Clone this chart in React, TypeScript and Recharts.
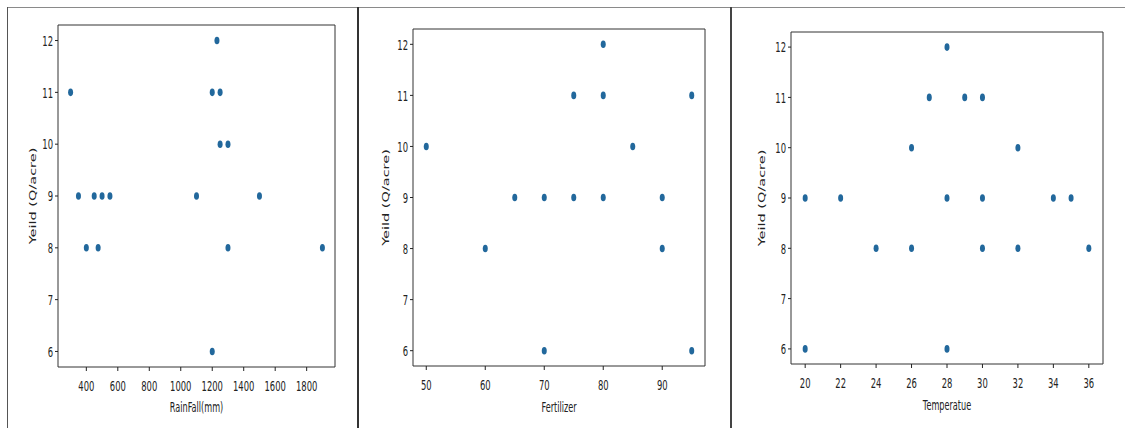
import { ScatterChart, Scatter, XAxis, YAxis, ReferenceArea } from 'recharts';

// values
const rainfall = [300, 350, 400, 450, 475, 500, 550, 1100, 1200, 1200, 1230, 1250, 1250, 1300, 1300, 1500, 1900];
const rainYield = [11, 9, 8, 9, 8, 9, 9, 9, 11, 6, 12, 11, 10, 10, 8, 9, 8];

const fertilizer = [50, 60, 65, 70, 70, 75, 75, 80, 80, 80, 85, 90, 90, 95, 95];
const fertYield = [10, 8, 9, 9, 6, 11, 9, 12, 11, 9, 10, 9, 8, 11, 6];

const temperature = [20, 20, 22, 24, 26, 26, 27, 28, 28, 28, 29, 30, 30, 30, 32, 32, 34, 35, 36];
const tempYield = [9, 6, 9, 8, 10, 8, 11, 12, 9, 6, 11, 11, 9, 8, 10, 8, 9, 9, 8];

const yieldTicks = [6, 7, 8, 9, 10, 11, 12];
const rainTicks = [400, 600, 800, 1000, 1200, 1400, 1600, 1800];
const fertTicks = [50, 60, 70, 80, 90];
const tempTicks = [20, 22, 24, 26, 28, 30, 32, 34, 36];

const yDomain = [5.7, 12.3];

const DOT = '#22689c';
const INK = '#222';
const SX = 0.58; // the screenshot is squeezed horizontally
const FONT = '"DejaVu Sans", sans-serif';

const toPoints = (xs: number[], ys: number[]) => xs.map((x, i) => ({ x, y: ys[i] }));

const Dot = (p: any) => <ellipse cx={p.cx} cy={p.cy} rx={2.5} ry={3.8} fill={DOT} />;

const XTick = (p: any) => (
  <g transform={`translate(${p.x},${p.y})`}>
    <text transform={`scale(${SX},1)`} textAnchor="middle" dy="0.74em" fontSize={14.5} fontFamily={FONT} fill={INK}>
      {p.payload.value}
    </text>
  </g>
);

const YTick = (p: any) => (
  <g transform={`translate(${p.x},${p.y})`}>
    <text transform={`scale(${SX},1)`} textAnchor="end" dy="0.36em" fontSize={14.5} fontFamily={FONT} fill={INK}>
      {p.payload.value}
    </text>
  </g>
);

type PanelProps = {
  data: { x: number; y: number }[];
  xDomain: number[];
  xTicks: number[];
  xLabel: string;
  left: number;
  width: number;
  top: number;
  right: number;
  yAxisW: number;
  xAxisH: number;
  yLabelX: number;
  xLabelBase: number;
};

const Panel = (props: PanelProps) => {
  const { data, xDomain, xTicks, xLabel, left, width, top, right, yAxisW, xAxisH, yLabelX, xLabelBase } = props;
  const height = 428;
  return (
    <div style={{ position: 'absolute', left, top: 0 }}>
      <ScatterChart width={width} height={height} margin={{ top, right, bottom: 0, left: 0 }}>
        <XAxis
          type="number"
          dataKey="x"
          domain={xDomain}
          ticks={xTicks}
          interval={0}
          allowDataOverflow
          height={xAxisH}
          axisLine={false}
          tickSize={4}
          tickMargin={9}
          tickLine={{ stroke: INK }}
          tick={<XTick />}
          label={{
            content: (lp: any) => {
              const vb = lp.viewBox || {};
              const cx = vb.x + vb.width / 2;
              return (
                <g transform={`translate(${cx},${xLabelBase})`}>
                  <text transform={`scale(0.56,1)`} textAnchor="middle" fontSize={14.5} fontFamily={FONT} fill={INK}>
                    {xLabel}
                  </text>
                </g>
              );
            },
          }}
        />
        <YAxis
          type="number"
          dataKey="y"
          domain={yDomain}
          ticks={yieldTicks}
          interval={0}
          allowDataOverflow
          width={yAxisW}
          axisLine={false}
          tickSize={3}
          tickMargin={2}
          tickLine={{ stroke: INK }}
          tick={<YTick />}
          label={{
            content: (lp: any) => {
              const vb = lp.viewBox || {};
              const cy = vb.y + vb.height / 2;
              return (
                <g transform={`translate(${yLabelX},${cy}) scale(0.62,1) rotate(-90)`}>
                  <text textAnchor="middle" dy="0.36em" fontSize={14.5} fontFamily={FONT} fill={INK}>
                    Yeild (Q/acre)
                  </text>
                </g>
              );
            },
          }}
        />
        <ReferenceArea
          x1={xDomain[0]}
          x2={xDomain[1]}
          y1={yDomain[0]}
          y2={yDomain[1]}
          fill="none"
          stroke="#333"
          strokeWidth={1}
          ifOverflow="visible"
        />
        <Scatter data={data} shape={<Dot />} isAnimationActive={false} />
      </ScatterChart>
    </div>
  );
};

const line = (style: any) => <div style={{ position: 'absolute', ...style }} />;

export default function App() {
  return (
    <div style={{ position: 'absolute', left: 0, top: 0, width: 1129, height: 428, background: '#fff', overflow: 'hidden' }}>
      <Panel
        data={toPoints(rainfall, rainYield)}
        xDomain={[220, 1980]}
        xTicks={rainTicks}
        xLabel="RainFall(mm)"
        left={0}
        width={358}
        top={25}
        right={23}
        yAxisW={58}
        xAxisH={61}
        yLabelX={33}
        xLabelBase={412}
      />
      <Panel
        data={toPoints(fertilizer, fertYield)}
        xDomain={[47.75, 97.25]}
        xTicks={fertTicks}
        xLabel="Fertilizer"
        left={358}
        width={373}
        top={29}
        right={26}
        yAxisW={55}
        xAxisH={62}
        yLabelX={28}
        xLabelBase={412}
      />
      <Panel
        data={toPoints(temperature, tempYield)}
        xDomain={[19.2, 36.8]}
        xTicks={tempTicks}
        xLabel="Temperatue"
        left={731}
        width={398}
        top={32}
        right={26}
        yAxisW={60}
        xAxisH={64}
        yLabelX={31}
        xLabelBase={410}
      />
      {line({ left: 8, top: 7, width: 1117, height: 1, background: '#8a8a8a' })}
      {line({ left: 7, top: 7, width: 1, height: 421, background: '#555' })}
      {line({ left: 357, top: 7, width: 2, height: 421, background: '#333' })}
      {line({ left: 730, top: 7, width: 2, height: 421, background: '#444' })}
    </div>
  );
}
